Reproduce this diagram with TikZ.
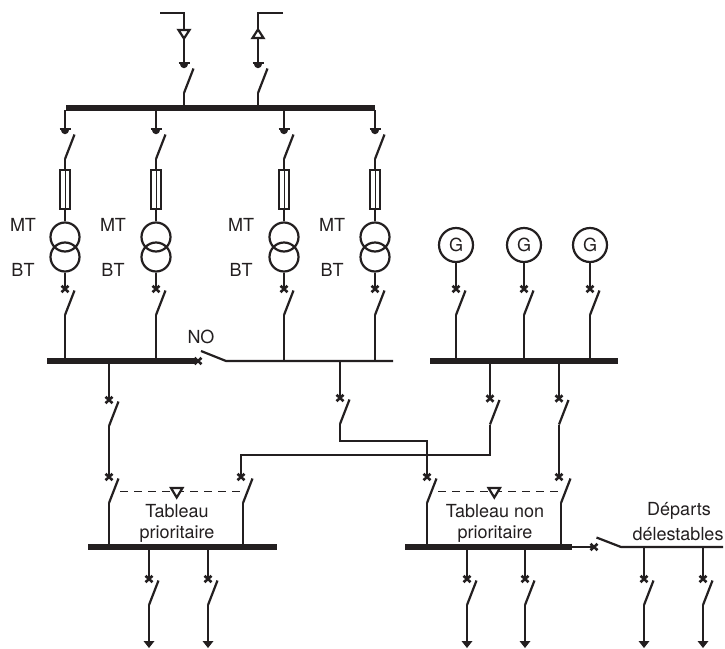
\documentclass[tikz,border=0pt]{standalone}
\usepackage{fontspec}
\setmainfont{TeX Gyre Heros}
\definecolor{ink}{HTML}{231F20}
\tikzset{
  wire/.style={draw=ink,line width=2.2pt,line join=miter},
  bus/.style={draw=ink,line width=5.2pt},
  cross/.style={draw=ink,line width=2.6pt},
  ctrl/.style={draw=ink,line width=1.1pt,dash pattern=on 8pt off 6pt},
  lbl/.style={font=\fontsize{18pt}{21pt}\selectfont,text=ink,inner sep=0pt,align=center},
  ring/.style={circle,draw=ink,line width=2.2pt,minimum size=#1,inner sep=0pt},
  fuse/.style={rectangle,draw=ink,line width=2.2pt,minimum width=10.5pt,minimum height=39pt,inner sep=0pt},
  tri/.style={draw=ink,line width=2.2pt,fill=white,line join=miter}
}
\usetikzlibrary{calc}
% breaker: name, x of mark, y of mark, x of blade foot
\newcommand\xmk[1]{\draw[cross] ($(#1)+(-3.5,-3.2)$) -- ($(#1)+(3.5,3.2)$) ($(#1)+(-3.5,3.2)$) -- ($(#1)+(3.5,-3.2)$);}
\newcommand\brk[4]{%
  \coordinate (#1t) at (#2,#3);
  \coordinate (#1b) at (#4,{#3+26});
  \draw[wire] (#1b) -- ++(9.5,-24.5);
  \xmk{#1t}
}
% disconnector: name, x, y of tick
\newcommand\dsc[3]{%
  \coordinate (#1t) at (#2,#3);
  \coordinate (#1b) at (#2,{#3+30});
  \draw[wire] (#1b) -- ++(9.5,-24.5);
  \draw[wire] ($(#1t)+(-5.5,0)$) -- ($(#1t)+(5.5,0)$);
  \fill[ink] ($(#1t)+(-4,0)$) .. controls ($(#1t)+(-4,6.5)$) and ($(#1t)+(4,6.5)$) .. ($(#1t)+(4,0)$) -- cycle;
}
% outgoing arrow
\newcommand\tipdown[1]{\fill[ink] ($(#1)+(-5.5,-7)$) -- ($(#1)+(5.5,-7)$) -- (#1) -- cycle;}
\begin{document}
\begin{tikzpicture}[x=1pt,y=-1pt]
\useasboundingbox (0,0) rectangle (725,648);
\fill[white] (0,0) rectangle (725,648);

% busbars
\coordinate (mvL) at (66,108); \coordinate (mvR) at (375,108);
\draw[bus] (mvL) -- (mvR);
\coordinate (lvL) at (47,361); \coordinate (lvR) at (197,361);
\draw[bus] (lvL) -- (lvR);
\coordinate (gbL) at (430,361); \coordinate (gbR) at (618,361);
\draw[bus] (gbL) -- (gbR);
\coordinate (pbL) at (88,547); \coordinate (pbR) at (277,547);
\draw[bus] (pbL) -- (pbR);
\coordinate (nbL) at (405,547); \coordinate (nbR) at (572,547);
\draw[bus] (nbL) -- (nbR);

% incoming feeders
\coordinate (inA) at (160,13); \coordinate (inAc) at (184,13);
\coordinate (inB) at (283,13); \coordinate (inBc) at (258,13);
\dsc{ia}{184}{63}
\dsc{ib}{258}{63}
\draw[wire] (inA) -- (inAc) -- (iat);
\draw[wire] (inB) -- (inBc) -- (ibt);
\draw[wire] (iab) -- (184,106);
\draw[wire] (ibb) -- (258,106);
\draw[tri] (178.5,30) -- (189.5,30) -- (184,38.5) -- cycle;
\draw[tri] (252.5,38) -- (263.5,38) -- (258,29.5) -- cycle;

% transformer bays
\foreach \n/\x/\l/\k in {a/65/23/0,b/156/113/0,c/284/241/0,d/375/332/0}{
  \coordinate (top\n) at (\x,110);
  \dsc{ds\n}{\x}{129}
  \draw[wire] (top\n) -- (ds\n t);
  \node[fuse] (fu\n) at (\x,189.5) {};
  \draw[draw=ink,line width=1pt] (fu\n.north) -- (fu\n.south);
  \draw[wire] (ds\n b) -- (fu\n.north);
  \node[ring=29pt] (tp\n) at (\x,237) {};
  \node[ring=29pt] (ts\n) at (\x,257) {};
  \draw[wire] (fu\n.south) -- (tp\n.north);
  \brk{cb\n}{\x}{289}{\x}
  \draw[wire] (ts\n.south) -- (cb\n t);
  \coordinate (lv\n) at (\x,361);
  \draw[wire] (cb\n b) -- (lv\n);
  \node[lbl] (mt\n) at (\l,225) {MT};
  \node[lbl] (bt\n) at (\l,270) {BT};
}

% tie switch and thin busbar
\node[lbl] (no) at (201,337) {NO};
\coordinate (noA) at (198,361);
\coordinate (noB) at (226,361);
\coordinate (tbR) at (393,361);
\xmk{noA}
\draw[wire] (201,351) -- (noB) -- (tbR);

% generators
\foreach \n/\x in {a/456,b/524,c/590}{
  \node[ring=34pt,lbl,draw=ink] (g\n) at (\x,245) {G};
  \brk{gc\n}{\x}{289}{\x}
  \draw[wire] (g\n.south) -- (gc\n t);
  \coordinate (gb\n) at (\x,361);
  \draw[wire] (gc\n b) -- (gb\n);
}

% links between boards
\coordinate (s1) at (109,361); \brk{la}{109}{400}{109}
\draw[wire] (s1) -- (lat);
\brk{pa}{109}{477}{109}
\draw[wire] (lab) -- (pat);
\coordinate (pa0) at (109,547); \draw[wire] (pab) -- (pa0);

\coordinate (s2) at (340,361); \brk{lb}{340}{398}{340}
\draw[wire] (s2) -- (lbt);
\brk{na}{427}{477}{427}
\coordinate (k1) at (340,441); \coordinate (k2) at (427,441);
\draw[wire] (lbb) -- (k1) -- (k2) -- (nat);
\coordinate (na0) at (427,547); \draw[wire] (nab) -- (na0);

\coordinate (s3) at (490,361); \brk{lc}{490}{398.5}{490}
\draw[wire] (s3) -- (lct);
\brk{pb}{241}{477}{243}
\coordinate (k3) at (490,455); \coordinate (k4) at (241,455);
\draw[wire] (lcb) -- (k3) -- (k4) -- (pbt);
\coordinate (pb0) at (243,547); \draw[wire] (pbb) -- (pb0);

\coordinate (s4) at (559,361); \brk{ld}{559}{398.5}{559}
\draw[wire] (s4) -- (ldt);
\brk{nb}{559}{477}{561}
\draw[wire] (ldb) -- (nbt);
\coordinate (nb0) at (561,547); \draw[wire] (nbb) -- (nb0);

% mechanical interlocks
\coordinate (ia1) at (120,491.7); \coordinate (ia2) at (245,491.7);
\draw[ctrl] (ia1) -- (ia2);
\draw[tri] (171,488) -- (182.5,488) -- (176.7,497.5) -- cycle;
\coordinate (ib1) at (438,491.7); \coordinate (ib2) at (563,491.7);
\draw[ctrl] (ib1) -- (ib2);
\draw[tri] (488.5,488) -- (500,488) -- (494.3,497.5) -- cycle;

% board titles
\node[lbl] (tpa) at (177,511) {Tableau};
\node[lbl] (tpb) at (177,534) {prioritaire};
\node[lbl] (tna) at (495,511) {Tableau non};
\node[lbl] (tnb) at (495,534) {prioritaire};
\node[lbl] (dpa) at (679,511) {Départs};
\node[lbl] (dpb) at (678,534) {délestables};

% load-shedding tie
\coordinate (shA) at (572,547);
\coordinate (shX) at (594,547);
\coordinate (shB) at (621,547);
\coordinate (shR) at (723,547);
\draw[wire] (shA) -- (shX);
\xmk{shX}
\draw[wire] (596.5,537.5) -- (shB) -- (shR);

% outgoing feeders
\foreach \n/\x in {a/149,b/208,c/467,d/525,e/644,f/703}{
  \coordinate (f\n) at (\x,547);
  \brk{o\n}{\x}{579}{\x}
  \draw[wire] (f\n) -- (o\n t);
  \coordinate (e\n) at (\x,648);
  \draw[wire] (o\n b) -- ($(e\n)+(0,-6)$);
  \tipdown{e\n}
}
\end{tikzpicture}
\end{document}
